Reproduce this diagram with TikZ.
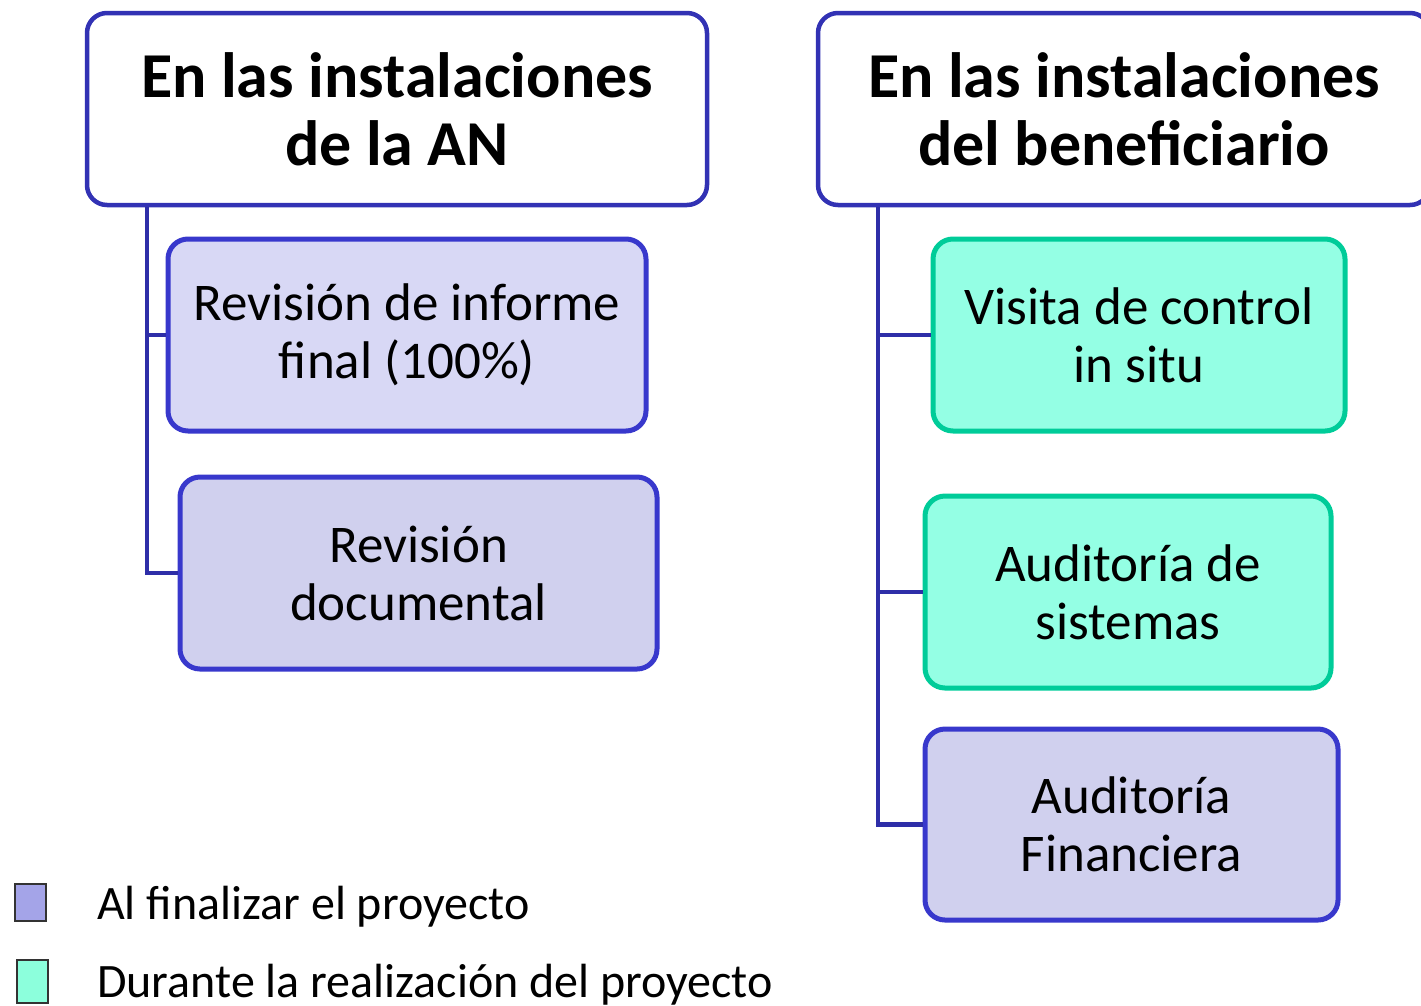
\documentclass[tikz,border=0pt]{standalone}
\usepackage{fontspec}
\setmainfont{Carlito}
\definecolor{hdrblue}{HTML}{3232B4}
\definecolor{conblue}{HTML}{2E2EA8}
\definecolor{boxblue}{HTML}{3838CC}
\definecolor{lavA}{HTML}{D8D8F5}
\definecolor{lavB}{HTML}{D0D0EE}
\definecolor{grnB}{HTML}{00CC99}
\definecolor{grnF}{HTML}{94FFE4}
\definecolor{legL}{HTML}{A4A4E8}
\definecolor{legG}{HTML}{8CFFDC}
\begin{document}
\begin{tikzpicture}[x=1pt,y=-1pt,
  hdr/.style={draw=hdrblue,line width=4.5pt,rounded corners=20pt,fill=white,align=center,inner sep=0pt,
    font=\fontsize{64}{68}\selectfont\bfseries},
  lbox/.style={draw=boxblue,line width=5pt,rounded corners=20pt,align=center,inner sep=0pt,
    font=\fontsize{53}{58}\selectfont},
  gbox/.style={lbox,draw=grnB},
  conn/.style={draw=conblue,line width=4.5pt},
  leg/.style={anchor=base west,inner sep=0pt,font=\fontsize{48}{50}\selectfont},
  legsq/.style={draw=black!80,line width=2pt,inner sep=0pt}
]
\useasboundingbox (0,0) rectangle (1421,1005);
\node[hdr,minimum width=620pt,minimum height=192pt] (hL) at (397,109) {En las instalaciones\\de la AN};
\node[hdr,minimum width=612pt,minimum height=192pt] (hR) at (1124,109) {En las instalaciones\\del beneficiario};
\node[lbox,fill=lavA,minimum width=478pt,minimum height=192pt] (b1) at (407,335) {Revisión de informe\\final (100\%)};
\node[lbox,fill=lavB,minimum width=477pt,minimum height=192pt] (b2) at (418.5,573) {Revisión\\documental};
\node[gbox,fill=grnF,minimum width=412pt,minimum height=192pt] (r1) at (1139,335) {Visita de control\\in situ};
\node[gbox,fill=grnF,minimum width=406pt,minimum height=192pt] (r2) at (1128,592) {Auditoría de\\sistemas};
\node[lbox,fill=lavB,minimum width=413pt,minimum height=191pt] (r3) at (1131.5,824.5) {Auditoría\\Financiera};
\coordinate (cL) at ([xshift=62pt]hL.south west);
\coordinate (cR) at ([xshift=62pt]hR.south west);
\draw[conn] (cL) |- (b1.west);
\draw[conn] (cL) |- (b2.west);
\draw[conn] (cR) |- (r1.west);
\draw[conn] (cR) |- (r2.west);
\draw[conn] (cR) |- (r3.west);
\node[legsq,fill=legL,minimum width=31pt,minimum height=37pt] (s1) at (30.5,902.5) {};
\node[legsq,fill=legG,minimum width=31pt,minimum height=43pt] (s2) at (32.5,981.5) {};
\node[leg] (t1) at (97,919) {Al finalizar el proyecto};
\node[leg] (t2) at (97,997) {Durante la realización del proyecto};
\end{tikzpicture}
\end{document}
